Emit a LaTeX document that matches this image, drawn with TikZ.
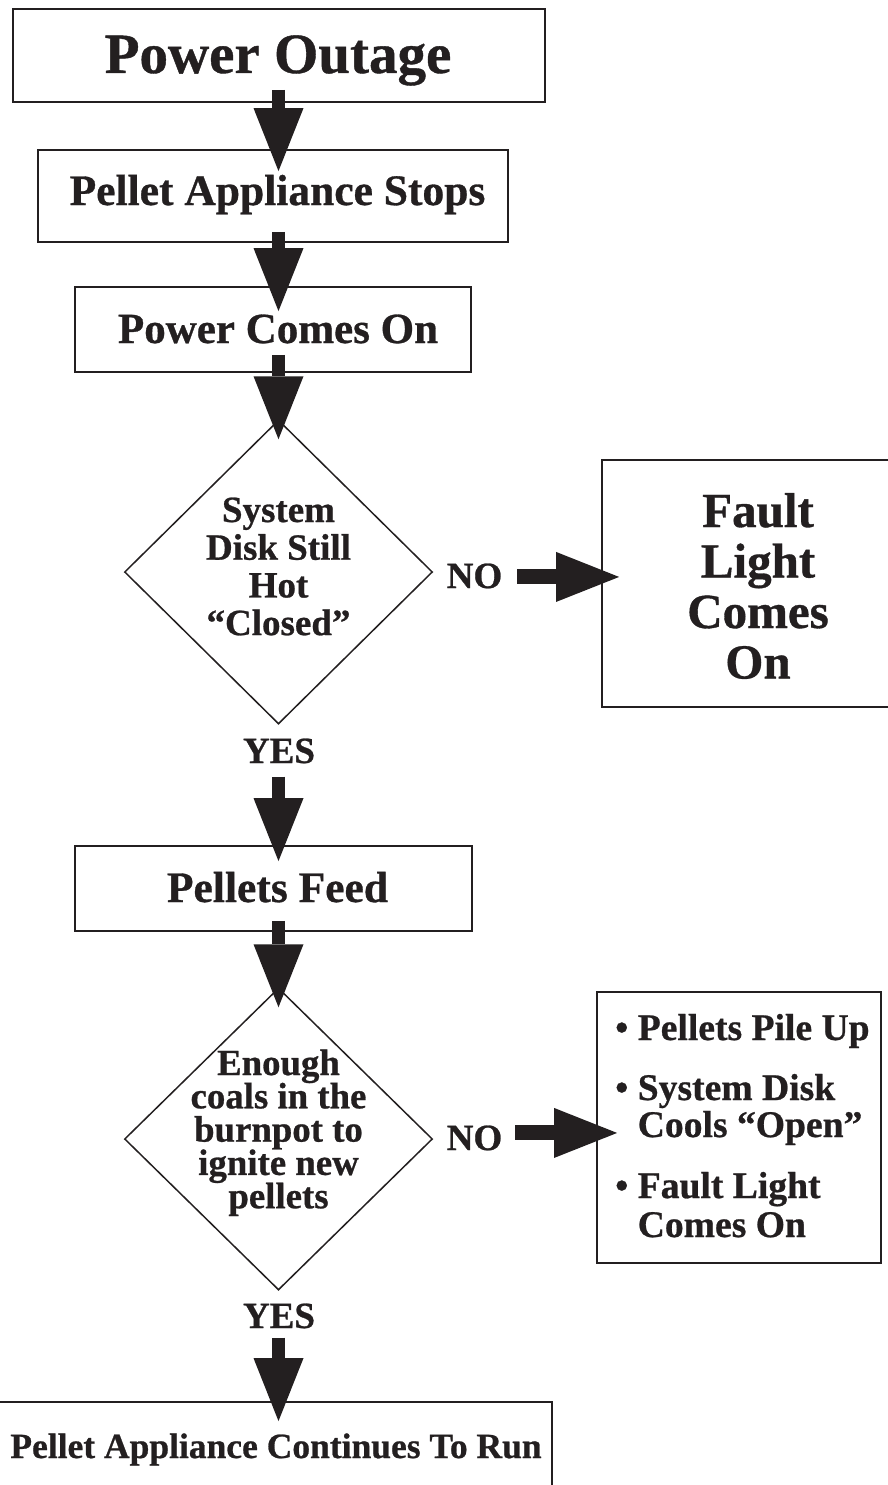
\documentclass[tikz,border=0pt]{standalone}
\usepackage{fontspec}
\setmainfont{Liberation Serif}[BoldFeatures={FakeBold=0.7}]
\usetikzlibrary{arrows.meta,shapes.geometric,calc}
\definecolor{ink}{HTML}{231F20}
\begin{document}
\begin{tikzpicture}[x=1pt,y=-1pt,
  box/.style={draw=ink, line width=1.8pt, inner sep=0pt},
  dia/.style={draw=ink, line width=1.5pt, shape=diamond, inner sep=0pt, minimum width=308pt, minimum height=304pt},
  txt/.style={inner sep=0pt, text=ink, anchor=base},
  bigarrow/.style={draw=ink, line width=13pt, -{Triangle[length=63pt,width=50pt,line width=0pt]}},
  sidearrow/.style={draw=ink, line width=15pt, -{Triangle[length=63pt,width=50pt,line width=0pt]}},
  fbig/.style={font=\bfseries\fontsize{57}{60}\selectfont},
  fmid/.style={font=\bfseries\fontsize{43.5}{46}\selectfont},
  fdia/.style={font=\bfseries\fontsize{37}{38}\selectfont},
  flab/.style={font=\bfseries\fontsize{37}{38}\selectfont},
]
\useasboundingbox (0,0) rectangle (888,1485);
\fill[white] (0,0) rectangle (888,1485);
\clip (0,0) rectangle (888,1485);

% boxes and diamonds
\node[box, minimum width=532pt, minimum height=93pt] (b1) at (279,55.5) {};
\node[box, minimum width=470pt, minimum height=92pt] (b2) at (273,196) {};
\node[box, minimum width=396pt, minimum height=85pt] (b3) at (273,329.5) {};
\node[dia] (d1) at (278.5,572) {};
\node[box, minimum width=293pt, minimum height=247pt] (f) at (748.5,583.5) {};
\node[box, minimum width=397pt, minimum height=85pt] (b4) at (273.5,888.5) {};
\node[dia, minimum height=302pt] (d2) at (278.5,1139) {};
\node[box, minimum width=284pt, minimum height=271pt] (bl) at (739,1127.5) {};
\node[box, minimum width=557pt, minimum height=98pt] (b5) at (273.5,1451) {};

% texts
\node[txt, fbig] (t1) at (278,73) {Power Outage};
\node[txt, fmid] (t2) at (277.5,205) {Pellet Appliance Stops};
\node[txt, fmid, font=\bfseries\fontsize{43}{46}\selectfont] (t3) at (278,343) {Power Comes On};
\foreach \s [count=\i] in {System, Disk Still, Hot, “Closed”}
  \node[txt, fdia] (d1t\i) at (278.5,{522+37.7*(\i-1)}) {\s};
\node[txt, flab] (no1) at (474.5,588) {NO};
\foreach \s [count=\i] in {Fault, Light, Comes, On}
  \node[txt, font=\bfseries\fontsize{49}{50}\selectfont] (ft\i) at (758,{527+50.5*(\i-1)}) {\s};
\node[txt, flab] (yes1) at (279,763) {YES};
\node[txt, fmid] (t4) at (277.5,902) {Pellets Feed};
\foreach \s [count=\i] in {Enough, coals in the, burnpot to, ignite new, pellets}
  \node[txt, font=\bfseries\fontsize{36.8}{37}\selectfont] (d2t\i) at (278.5,{1075+33.3*(\i-1)}) {\s};
\node[txt, flab] (no2) at (474.5,1150) {NO};
\begin{scope}[every node/.style={txt, anchor=base west, font=\bfseries\fontsize{37.6}{38}\selectfont}]
  \node (l1) at (615,1040) {• Pellets Pile Up};
  \node (l2) at (615,1100) {• System Disk};
  \node (l3) at (615,1137) {\hphantom{• }Cools “Open”};
  \node (l4) at (615,1198) {• Fault Light};
  \node (l5) at (615,1237) {\hphantom{• }Comes On};
\end{scope}
\node[txt, flab] (yes2) at (279,1328) {YES};
\node[txt, font=\bfseries\fontsize{35.5}{37}\selectfont] (t5) at (276,1458) {Pellet Appliance Continues To Run};

% connectors
\draw[bigarrow] ($(b1.south -| d1.north)+(0,-13)$) -- ($(b2.north -| d1.north)+(0,22)$);
\draw[bigarrow] ($(b2.south -| d1.north)+(0,-11)$) -- ($(b3.north -| d1.north)+(0,25)$);
\draw[bigarrow] ($(b3.south -| d1.north)+(0,-18)$) -- ($(d1.north)+(0,20)$);
\draw[sidearrow] ($(no1.east)+(15,1)$) -- ($(no1.east -| f.west)+(18,1)$);
\draw[bigarrow] ($(yes1.south -| d1.north)+(0,13)$) -- ($(b4.north -| d1.north)+(0,16)$);
\draw[bigarrow] ($(b4.south -| d1.north)+(0,-11)$) -- ($(d2.north)+(0,20)$);
\draw[sidearrow] ($(no2.east)+(13,-5)$) -- ($(no2.east -| bl.west)+(21,-5)$);
\draw[bigarrow] ($(yes2.south -| d1.north)+(0,9)$) -- ($(b5.north -| d1.north)+(0,20)$);
\end{tikzpicture}
\end{document}
